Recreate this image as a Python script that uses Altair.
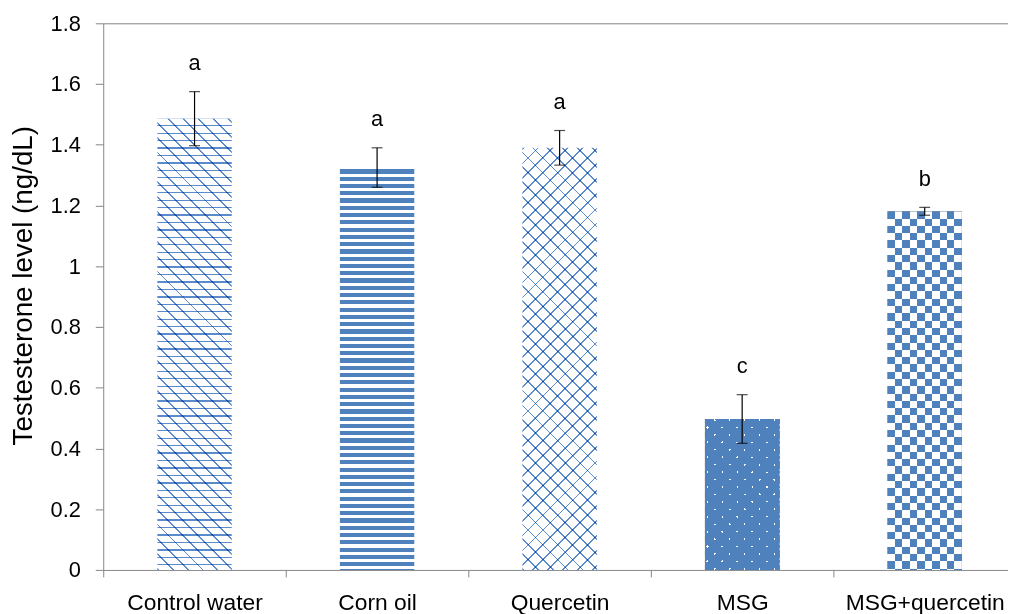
import altair as alt
import pandas as pd

# ---------------- data ----------------
groups = ["Control water", "Corn oil", "Quercetin", "MSG", "MSG+quercetin"]
means = [1.486, 1.325, 1.390, 0.497, 1.181]
sems = [0.089, 0.065, 0.057, 0.080, 0.013]
letters = ["a", "a", "a", "c", "b"]
y_ticks = [0, 0.2, 0.4, 0.6, 0.8, 1, 1.2, 1.4, 1.6, 1.8]
y_title = "Testesterone level (ng/dL)"

df = pd.DataFrame({"group": groups, "mean": means, "sem": sems, "letter": letters})

# ---------------- layout / style ----------------
W, H = 912, 551
Y_MAX = 1.8
PX = H / Y_MAX
P_IN, P_OUT, ALIGN = 0.5924, 0.2745, 0.54
STEP = W / (len(groups) - P_IN + 2 * P_OUT)
BAR_W = STEP * (1 - P_IN)

BLUE = "#4f81bd"
GRAY = "#868686"
FONT = "Liberation Sans"


def stripes(length, period, on, on_color, off_color, phase=0.0):
    stops = []
    pos = -phase
    while pos < length:
        for a, b, c in ((pos, pos + on, on_color), (pos + on, pos + period, off_color)):
            a2, b2 = max(a, 0.0), min(b, length)
            if b2 > a2:
                stops.append(alt.GradientStop(offset=round(a2 / length, 5), color=c))
                stops.append(alt.GradientStop(offset=round(b2 / length, 5), color=c))
        pos += period
    return stops


def vgrad(w, h, period, on, c1, c2, phase=0.0):
    return alt.LinearGradient(gradient="linear", x1=0, y1=0, x2=0, y2=1,
                              stops=stripes(h, period, on, c1, c2, phase))


def hgrad(w, h, period, on, c1, c2, phase=0.0):
    return alt.LinearGradient(gradient="linear", x1=0, y1=0, x2=1, y2=0,
                              stops=stripes(w, period, on, c1, c2, phase))


def dfwd(w, h, period, on, c1, c2, phase=0.0):
    k = (w + h) / (w * w + h * h)
    return alt.LinearGradient(gradient="linear", x1=0, y1=0, x2=w * k, y2=h * k,
                              stops=stripes(w + h, period, on, c1, c2, phase))


def dback(w, h, period, on, c1, c2, phase=0.0):
    k = (w + h) / (w * w + h * h)
    return alt.LinearGradient(gradient="linear", x1=0, y1=1, x2=w * k, y2=1 - h * k,
                              stops=stripes(w + h, period, on, c1, c2, phase))


X = alt.X("group:N", sort=groups,
          scale=alt.Scale(paddingInner=P_IN, paddingOuter=P_OUT, align=ALIGN),
          axis=alt.Axis(title=None, labelAngle=0, labelFont=FONT, labelFontSize=23,
                        labelColor="black", labelBaseline="alphabetic", labelPadding=33,
                        tickSize=7, tickOffset=-STEP / 2, labelOffset=STEP / 2,
                        tickColor=GRAY, domainColor=GRAY,
                        grid=False, labelLimit=400))

y_axis = alt.Axis(values=y_ticks, format="~g", title=y_title, titleFont=FONT,
                  titleFontSize=28, titleFontWeight="normal", titleColor="black",
                  titleX=-80, titleY=264, titleBaseline="middle",
                  labelFont=FONT, labelFontSize=22, labelColor="black", labelPadding=15,
                  tickSize=8, tickColor=GRAY, domainColor=GRAY,
                  grid=True, gridColor=GRAY,
                  gridOpacity={"condition": {"test": "datum.value >= 1.79", "value": 1}, "value": 0})
y_scale = alt.Scale(domain=[0, Y_MAX], nice=False)

base = alt.Chart(df)


def bar(i, color, blend=None):
    kw = {"color": color}
    if blend:
        kw["blend"] = blend
    return (base.transform_filter(alt.datum.group == groups[i])
            .mark_bar(**kw)
            .encode(x=X, y=alt.Y("mean:Q", scale=y_scale, axis=y_axis)))


hs = [m * PX for m in means]
w = BAR_W
LIGHT = "#5a8bcc"
layers = [
    # Control water: scale-like lattice
    bar(0, dback(w, hs[0], 15, 1.9, LIGHT, "white")),
    bar(0, vgrad(w, hs[0], 7.5, 1.3, LIGHT, "white", 1.0), "multiply"),
    # Corn oil: horizontal stripes
    bar(1, vgrad(w, hs[1], 7.33, 4.2, BLUE, "white", 5.5)),
    # Quercetin: diamond lattice
    bar(2, dfwd(w, hs[2], 15, 1.8, LIGHT, "white")),
    bar(2, dback(w, hs[2], 15, 1.8, LIGHT, "white"), "multiply"),
    # MSG: blue with white dots
    bar(3, dfwd(w, hs[3], 15, 2.2, "white", "black", 5)),
    bar(3, dback(w, hs[3], 15, 2.2, "white", "black", 5), "multiply"),
    bar(3, BLUE, "screen"),
    # MSG+quercetin: checkerboard
    bar(4, vgrad(w, hs[4], 14.7, 7.35, "black", "white")),
    bar(4, hgrad(w, hs[4], 15, 7.5, "black", "white"), "difference"),
    bar(4, BLUE, "screen"),
]

err = base.transform_calculate(lo="datum.mean - datum.sem", hi="datum.mean + datum.sem")
layers += [
    err.mark_rule(color="black", strokeWidth=1.2).encode(
        x=X, y=alt.Y("lo:Q", scale=y_scale, axis=y_axis), y2="hi:Q"),
    err.mark_tick(color="black", thickness=1.2, size=11).encode(
        x=X, y=alt.Y("hi:Q", scale=y_scale, axis=y_axis)),
    err.mark_tick(color="black", thickness=1.2, size=11).encode(
        x=X, y=alt.Y("lo:Q", scale=y_scale, axis=y_axis)),
    err.mark_text(font=FONT, fontSize=22, color="black", baseline="alphabetic", dy=-22).encode(
        x=X, y=alt.Y("hi:Q", scale=y_scale, axis=y_axis), text="letter:N"),
]

chart = (alt.layer(*layers)
         .properties(width=W, height=H,
                     autosize=alt.AutoSizeParams(type="none"),
                     padding={"left": 96, "top": 13, "right": 0, "bottom": 42})
         .configure_view(stroke=None))

chart.save("out.html", embed_options={"renderer": "svg", "actions": False})
